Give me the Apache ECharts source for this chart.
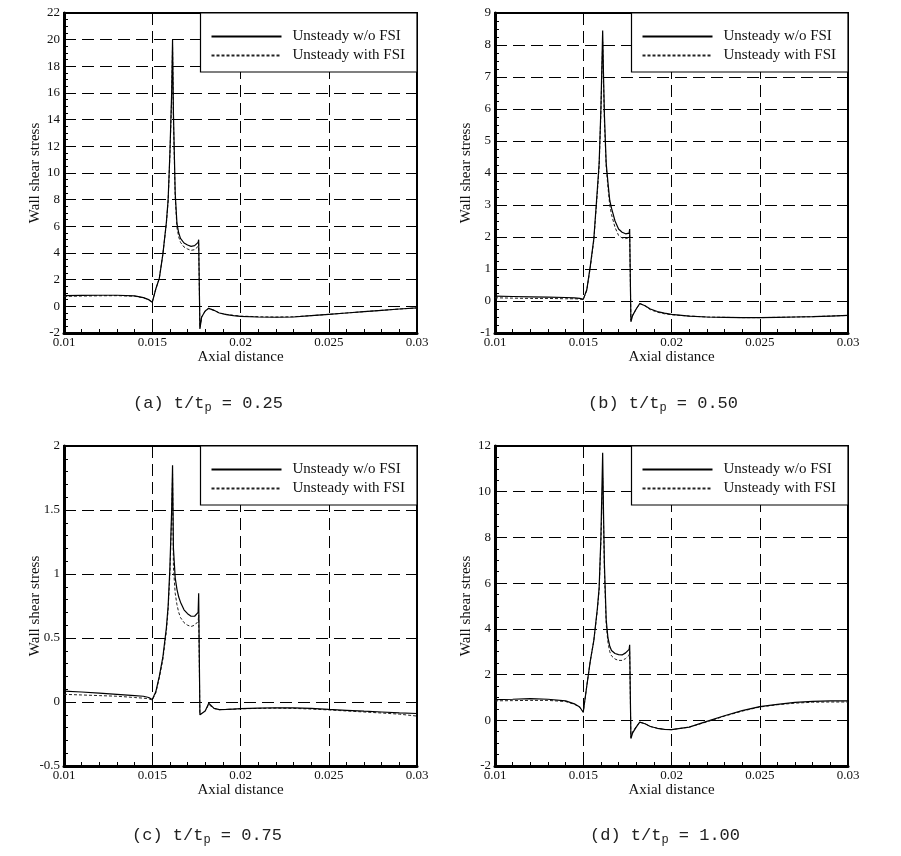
<!DOCTYPE html>
<html>
<head>
<meta charset="utf-8">
<script src="https://cdn.jsdelivr.net/npm/echarts@6/dist/echarts.min.js"></script>
<style>
html,body{margin:0;padding:0;background:#fff;}
#chart{width:901px;height:856px;}
</style>
</head>
<body>
<div id="chart"></div>
<script>
// Axial distance sample positions (shared by all panels)
const axialX = [0.0100, 0.0110, 0.0120, 0.0130, 0.0140, 0.0145, 0.0148, 0.0150, 0.0152, 0.0154, 0.0156, 0.0158, 0.0159, 0.0160, 0.0161, 0.01615, 0.0162, 0.0163, 0.0164, 0.0165, 0.0166, 0.0168, 0.0170, 0.0172, 0.0174, 0.0176, 0.01763, 0.0177, 0.0178, 0.0180, 0.0182, 0.0183, 0.0185, 0.0188, 0.0192, 0.0196, 0.0200, 0.0210, 0.0220, 0.0230, 0.0240, 0.0250, 0.0260, 0.0270, 0.0280, 0.0290, 0.0300];

const seriesNames = ['Unsteady w/o FSI', 'Unsteady with FSI'];

// (a) t/tp = 0.25
const a_noFSI = [0.80, 0.82, 0.83, 0.83, 0.78, 0.65, 0.50, 0.30, 1.3, 2.1, 3.9, 6.3, 8.0, 11.5, 16.0, 20.0, 14.5, 8.5, 6.2, 5.5, 5.1, 4.75, 4.6, 4.5, 4.55, 4.8, 5.0, -1.7, -0.8, -0.35, -0.15, -0.12, -0.3, -0.5, -0.62, -0.7, -0.75, -0.8, -0.82, -0.8, -0.7, -0.6, -0.5, -0.4, -0.3, -0.2, -0.12];
const a_FSI   = [0.75, 0.77, 0.79, 0.80, 0.76, 0.64, 0.50, 0.32, 1.3, 2.1, 3.9, 6.2, 7.9, 11.3, 15.6, 19.6, 14.0, 8.2, 5.9, 5.2, 4.8, 4.45, 4.3, 4.2, 4.25, 4.5, 4.7, -1.6, -0.8, -0.35, -0.15, -0.12, -0.3, -0.5, -0.6, -0.68, -0.73, -0.78, -0.8, -0.78, -0.7, -0.6, -0.5, -0.4, -0.3, -0.2, -0.12];

// (b) t/tp = 0.50
const b_noFSI = [0.15, 0.14, 0.13, 0.12, 0.11, 0.10, 0.08, 0.05, 0.35, 1.1, 1.95, 3.5, 4.3, 6.0, 8.45, 7.0, 5.8, 4.3, 3.7, 3.15, 2.9, 2.5, 2.25, 2.15, 2.1, 2.12, 2.25, -0.65, -0.45, -0.25, -0.08, -0.05, -0.15, -0.25, -0.33, -0.38, -0.42, -0.47, -0.5, -0.51, -0.52, -0.52, -0.51, -0.5, -0.49, -0.47, -0.45];
const b_FSI   = [0.10, 0.09, 0.08, 0.08, 0.07, 0.07, 0.06, 0.05, 0.33, 1.05, 1.9, 3.4, 4.2, 5.9, 8.1, 6.8, 5.6, 4.2, 3.55, 3.0, 2.7, 2.3, 2.05, 1.97, 1.95, 1.98, 2.05, -0.6, -0.45, -0.25, -0.08, -0.05, -0.15, -0.27, -0.35, -0.4, -0.43, -0.47, -0.5, -0.51, -0.52, -0.52, -0.51, -0.5, -0.49, -0.47, -0.45];

// (c) t/tp = 0.75
const c_noFSI = [0.085, 0.078, 0.07, 0.06, 0.05, 0.045, 0.035, 0.02, 0.08, 0.2, 0.35, 0.58, 0.75, 1.05, 1.5, 1.85, 1.2, 0.97, 0.88, 0.82, 0.78, 0.72, 0.69, 0.67, 0.67, 0.7, 0.85, -0.1, -0.09, -0.07, -0.01, -0.02, -0.05, -0.06, -0.058, -0.055, -0.052, -0.048, -0.045, -0.046, -0.05, -0.058, -0.065, -0.072, -0.078, -0.085, -0.09];
const c_FSI   = [0.06, 0.055, 0.05, 0.045, 0.035, 0.03, 0.025, 0.015, 0.07, 0.19, 0.33, 0.55, 0.72, 1.0, 1.45, 1.78, 1.05, 0.85, 0.76, 0.7, 0.66, 0.62, 0.6, 0.59, 0.6, 0.63, 0.68, -0.1, -0.09, -0.07, -0.02, -0.025, -0.05, -0.06, -0.058, -0.056, -0.053, -0.05, -0.048, -0.05, -0.055, -0.062, -0.07, -0.078, -0.086, -0.095, -0.11];

// (d) t/tp = 1.00
const d_noFSI = [0.9, 0.92, 0.95, 0.92, 0.85, 0.72, 0.58, 0.35, 1.5, 2.6, 3.5, 4.9, 5.8, 8.0, 11.7, 9.0, 6.8, 4.4, 3.6, 3.25, 3.05, 2.92, 2.87, 2.86, 2.95, 3.1, 3.3, -0.8, -0.55, -0.3, -0.08, -0.05, -0.15, -0.27, -0.35, -0.4, -0.41, -0.3, -0.05, 0.2, 0.42, 0.6, 0.7, 0.78, 0.83, 0.85, 0.85];
const d_FSI   = [0.85, 0.86, 0.87, 0.87, 0.82, 0.7, 0.56, 0.35, 1.5, 2.6, 3.5, 4.8, 5.7, 7.8, 10.6, 8.6, 6.5, 4.2, 3.4, 3.0, 2.82, 2.68, 2.62, 2.62, 2.7, 2.85, 3.0, -0.75, -0.5, -0.28, -0.08, -0.05, -0.15, -0.27, -0.35, -0.4, -0.41, -0.3, -0.07, 0.18, 0.4, 0.58, 0.68, 0.75, 0.79, 0.8, 0.8];

// x-axis ticks
const xMin = 0.01, xMax = 0.03, xStep = 0.005;
// y-axis ranges per panel: [min, max, interval, minorSplit]
const yA = [-2, 22, 2, 4];
const yB = [-1, 9, 1, 4];
const yC = [-0.5, 2, 0.5, 5];
const yD = [-2, 12, 2, 4];

const captions = [
  ['(a)', '0.25'],
  ['(b)', '0.50'],
  ['(c)', '0.75'],
  ['(d)', '1.00']
];

const panels = [
  {no: a_noFSI, fsi: a_FSI, y: yA, left: 64, top: 13, capX: 133, capY: 395},
  {no: b_noFSI, fsi: b_FSI, y: yB, left: 495, top: 13, capX: 588, capY: 395},
  {no: c_noFSI, fsi: c_FSI, y: yC, left: 64, top: 446, capX: 132, capY: 827},
  {no: d_noFSI, fsi: d_FSI, y: yD, left: 495, top: 446, capX: 590, capY: 827}
];
const W = 353, H = 320;
const serif = '"Liberation Serif", "Times New Roman", serif';
const mono = '"Liberation Mono", monospace';

const grid = [], xAxis = [], yAxis = [], series = [], legend = [], graphic = [];
panels.forEach((p, i) => {
  grid.push({left: p.left, top: p.top, width: W, height: H, show: true,
    borderColor: '#000', borderWidth: 2, backgroundColor: 'transparent'});
  xAxis.push({
    type: 'value', gridIndex: i, min: xMin, max: xMax, interval: xStep,
    name: 'Axial distance', nameLocation: 'middle', nameGap: 17, nameMoveOverlap: false,
    nameTextStyle: {fontFamily: serif, fontSize: 15, color: '#111'},
    axisLine: {show: true, onZero: false, lineStyle: {color: '#000', width: 3}},
    axisTick: {show: true, inside: true, length: 8, lineStyle: {color: '#000', width: 1}},
    minorTick: {show: true, splitNumber: 5, length: 4, lineStyle: {color: '#000', width: 1}},
    axisLabel: {fontFamily: serif, fontSize: 13, color: '#111', margin: 3,
      formatter: v => String(+v.toFixed(3))},
    splitLine: {show: true, lineStyle: {color: '#000', width: 1, type: [12, 6]}}
  });
  yAxis.push({
    type: 'value', gridIndex: i, min: p.y[0], max: p.y[1], interval: p.y[2],
    name: 'Wall shear stress', nameLocation: 'middle', nameGap: 21, nameRotate: 90,
    nameMoveOverlap: false,
    nameTextStyle: {fontFamily: serif, fontSize: 15, color: '#111'},
    axisLine: {show: true, onZero: false, lineStyle: {color: '#000', width: 3}},
    axisTick: {show: true, inside: true, length: 8, lineStyle: {color: '#000', width: 1}},
    minorTick: {show: true, splitNumber: p.y[3], length: 4, lineStyle: {color: '#000', width: 1}},
    axisLabel: {fontFamily: serif, fontSize: 13, color: '#111', margin: 4,
      formatter: v => String(+v.toFixed(2))},
    splitLine: {show: true, lineStyle: {color: '#000', width: 1, type: [12, 6]}}
  });
  series.push({
    name: seriesNames[1], type: 'line', xAxisIndex: i, yAxisIndex: i,
    symbol: 'none', smooth: false, z: 3,
    lineStyle: {color: '#222', width: 1, type: [3, 2]},
    itemStyle: {color: '#222'},
    data: axialX.map((x, k) => [x, p.fsi[k]])
  });
  series.push({
    name: seriesNames[0], type: 'line', xAxisIndex: i, yAxisIndex: i,
    symbol: 'none', smooth: false, z: 4,
    lineStyle: {color: '#000', width: 1.2, type: 'solid'},
    itemStyle: {color: '#000'},
    data: axialX.map((x, k) => [x, p.no[k]])
  });
  legend.push({
    data: seriesNames, orient: 'vertical', selectedMode: false,
    right: 901 - (p.left + W), top: p.top,
    backgroundColor: '#fff', borderColor: '#000', borderWidth: 1.2, borderRadius: 0,
    padding: [16, 12, 9, 10], itemGap: 4, itemWidth: 70, itemHeight: 14,
    itemStyle: {opacity: 0},
    textStyle: {fontFamily: serif, fontSize: 15, color: '#111', padding: [0, 0, 0, 6]},
    z: 10
  });
  graphic.push({
    type: 'text',
    left: p.capX,
    top: p.capY,
    style: {
      text: captions[i][0] + ' t/t{s|p} = ' + captions[i][1],
      rich: {
        s: {fontSize: 12, fontFamily: mono, fill: '#222', padding: [9, 0, 0, 0]}
      },
      fontFamily: mono, fontSize: 17, fill: '#222'
    }
  });
});

const chart = echarts.init(document.getElementById('chart'), null, {renderer: 'canvas'});
chart.setOption({
  animation: false,
  backgroundColor: '#fff',
  grid, xAxis, yAxis, series, legend, graphic
});
</script>
</body>
</html>
